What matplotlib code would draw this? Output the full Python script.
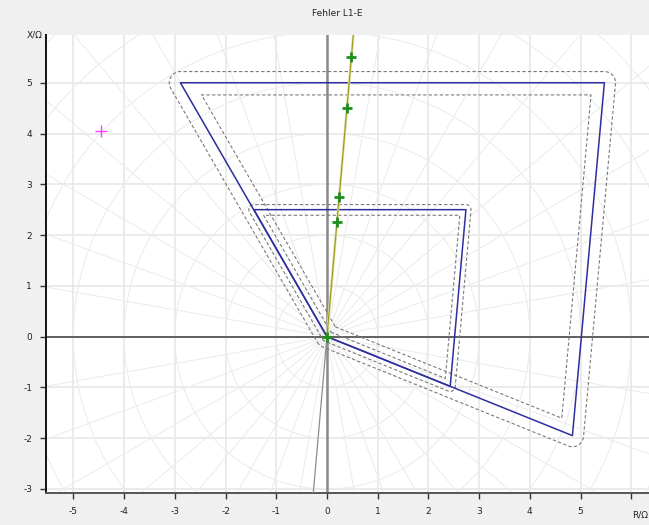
import numpy as np
import matplotlib
matplotlib.use("Agg")
import matplotlib.pyplot as plt

# Zone polygons (R, X in ohm), counter-clockwise starting at the origin
zone_outer_r = [0.0, 4.84, 5.47, -2.89]
zone_outer_x = [0.0, -1.95, 5.00, 5.00]
zone_inner_r = [0.0, 2.43, 2.74, -1.44]
zone_inner_x = [0.0, -0.98, 2.50, 2.50]

# Tolerance bands around each zone (outward, inward)
band_outer = (0.22, 0.24)
band_inner = (0.10, 0.11)

# Line impedance angle and measured fault loop points
line_angle_deg = 85.0
fault_r = [0.0, 0.20, 0.24, 0.39, 0.48]
fault_x = [0.0, 2.25, 2.75, 4.50, 5.50]
load_r = [-4.45]
load_x = [4.05]

title = "Fehler L1-E"
xticks = [-5, -4, -3, -2, -1, 0, 1, 2, 3, 4, 5, 6]
xticklabels = ["-5", "-4", "-3", "-2", "-1", "0", "1", "2", "3", "4", "5", ""]
yticks = [-3, -2, -1, 0, 1, 2, 3, 4, 5]
xlim = (-5.54, 6.35)
ylim = (-3.08, 5.94)

bg = "#f0f0f0"
fig = plt.figure(figsize=(6.49, 5.25), dpi=100, facecolor=bg)
ax = fig.add_axes([46 / 649, 32 / 525, 1 - 46 / 649, (493 - 35) / 525])
ax.set_facecolor("white")
ax.set_xlim(*xlim)
ax.set_ylim(*ylim)

# Rectangular grid
for v in xticks:
    ax.axvline(v, color="#e8e8e8", lw=1.2, zorder=1)
for v in yticks:
    ax.axhline(v, color="#e8e8e8", lw=1.2, zorder=1)

# Polar grid: circles every 1 ohm, radial lines every 10 degrees
t = np.linspace(0, 2 * np.pi, 720)
for rad in range(1, 10):
    ax.plot(rad * np.cos(t), rad * np.sin(t), color="#ebebeb", lw=0.7, zorder=1)
for ang in range(0, 360, 10):
    a = np.deg2rad(ang)
    ax.plot([0, 12 * np.cos(a)], [0, 12 * np.sin(a)], color="#ebebeb", lw=0.7, zorder=1)

# Coordinate axes through the origin
ax.axvline(0, color="#8a8a8a", lw=1.8, zorder=2)
ax.axhline(0, color="#555555", lw=1.3, zorder=2)


def edge_normals(r, x):
    p = np.column_stack([r, x])
    q = np.roll(p, -1, axis=0)
    d = q - p
    n = np.column_stack([d[:, 1], -d[:, 0]])
    return p, n / np.linalg.norm(n, axis=1, keepdims=True)


def grow(r, x, dist):
    """Outward offset with rounded corners."""
    p, n = edge_normals(r, x)
    pts = []
    for i in range(len(p)):
        n_in = n[i - 1]
        n_out = n[i]
        a0 = np.arctan2(n_in[1], n_in[0])
        a1 = np.arctan2(n_out[1], n_out[0])
        if a1 < a0:
            a1 += 2 * np.pi
        aa = np.linspace(a0, a1, 20)
        pts.append(p[i] + dist * np.column_stack([np.cos(aa), np.sin(aa)]))
    pts = np.vstack(pts + [pts[0][:1]])
    return pts[:, 0], pts[:, 1]


def shrink(r, x, dist):
    """Inward offset with sharp corners."""
    p, n = edge_normals(r, x)
    pts = []
    for i in range(len(p)):
        n_in = n[i - 1]
        n_out = n[i]
        pts.append(p[i] - dist * (n_in + n_out) / (1 + np.dot(n_in, n_out)))
    pts = np.vstack(pts + [pts[0]])
    return pts[:, 0], pts[:, 1]


for zr, zx, (d_out, d_in) in [(zone_outer_r, zone_outer_x, band_outer),
                              (zone_inner_r, zone_inner_x, band_inner)]:
    gr, gx = grow(zr, zx, d_out)
    ax.plot(gr, gx, color="#7a7a7a", lw=0.8, ls=(0, (3, 2)), zorder=3)
    sr, sx = shrink(zr, zx, d_in)
    ax.plot(sr, sx, color="#7a7a7a", lw=0.8, ls=(0, (3, 2)), zorder=3)
    ax.plot(list(zr) + [zr[0]], list(zx) + [zx[0]], color="#2e2ea0", lw=1.1, zorder=4)

# Line impedance characteristic
a = np.deg2rad(line_angle_deg)
ax.plot([-5 * np.cos(a), 8 * np.cos(a)], [-5 * np.sin(a), 8 * np.sin(a)],
        color="#8c8c8c", lw=0.9, zorder=4)
ax.plot([0, 8 * np.cos(a)], [0, 8 * np.sin(a)], color="#dcdc9c", lw=1.8, zorder=5)
ax.plot([0, 8 * np.cos(a)], [0, 8 * np.sin(a)], color="#959515", lw=0.7, zorder=5)

ax.plot(fault_r, fault_x, ls="none", marker="+", ms=7, mew=2.0, color="#1f8f1f", zorder=6)
ax.plot(load_r, load_x, ls="none", marker="+", ms=9, mew=1.0, color="#ff40ff", zorder=6)

# Spines and ticks
for s in ["top", "right"]:
    ax.spines[s].set_visible(False)
ax.spines["left"].set_color("#111111")
ax.spines["left"].set_linewidth(1.4)
ax.spines["bottom"].set_color("#555555")
ax.spines["bottom"].set_linewidth(1.4)
ax.set_xticks(xticks)
ax.set_yticks(yticks)
ax.set_xticklabels(xticklabels)
ax.set_yticklabels([str(v) for v in yticks])
ax.tick_params(axis="both", direction="out", length=4, width=1, color="#333333",
               labelsize=6.5, labelcolor="#222222", pad=6)

fig.text(337 / 649, 1 - 13 / 525, title, ha="center", va="center", fontsize=6.5, color="#222222")
fig.text(35 / 649, 1 - 35 / 525, "X/Ω", ha="center", va="center", fontsize=6.5, color="#222222")
fig.text(640 / 649, 1 - 515 / 525, "R/Ω", ha="center", va="center", fontsize=6.5, color="#222222")

fig.savefig("out.png", dpi=100, facecolor=bg)
